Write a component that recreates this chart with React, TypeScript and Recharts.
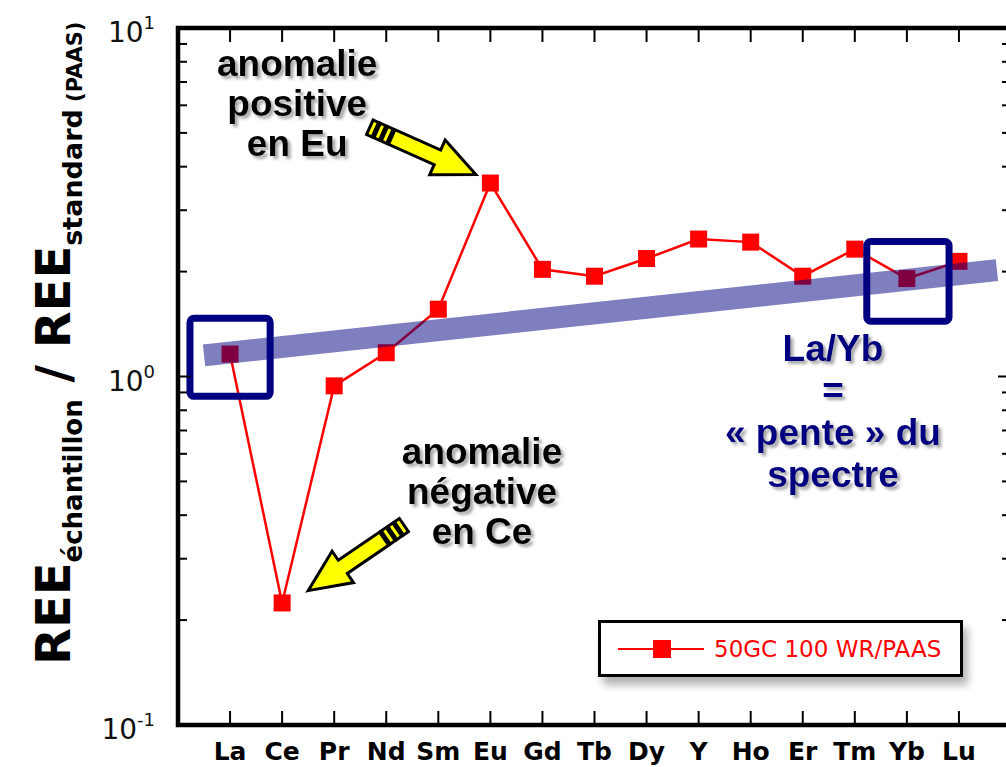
import { LineChart, Line, XAxis, YAxis, ReferenceLine, ReferenceArea, ReferenceDot, Legend } from 'recharts';

// REE spectrum normalised to PAAS, one sample
const elements = ['La', 'Ce', 'Pr', 'Nd', 'Sm', 'Eu', 'Gd', 'Tb', 'Dy', 'Y', 'Ho', 'Er', 'Tm', 'Yb', 'Lu'];
const positions = elements.map((_, i) => i + 1);
const ratios = [1.16, 0.224, 0.94, 1.17, 1.56, 3.59, 2.03, 1.94, 2.18, 2.48, 2.43, 1.94, 2.32, 1.91, 2.14];
const seriesName = '50GC 100 WR/PAAS';

const yTicks = [0.1, 0.2, 0.3, 0.4, 0.5, 0.6, 0.7, 0.8, 0.9, 1, 2, 3, 4, 5, 6, 7, 8, 9, 10];

// overall slope band (La -> Lu trend) and the two boxed points
const slopeBand = [{ x: 0.5, y: 1.15 }, { x: 15.73, y: 2.02 }];
const boxes = [
  { x1: 0.23, x2: 1.77, y1: 0.877, y2: 1.47 },
  { x1: 13.23, x2: 14.81, y1: 1.44, y2: 2.44 },
];

// arrows: tip position + direction in degrees
const arrows = [
  { x: 5.72, y: 3.8, angle: 24 },
  { x: 2.5, y: 0.243, angle: 145.6 },
];

const notes = [
  { x: 2.29, y: 7.3, lines: ['anomalie', 'positive', 'en Eu'], color: '#000000', gap: 40 },
  { x: 5.84, y: 0.56, lines: ['anomalie', 'négative', 'en Ce'], color: '#000000', gap: 40 },
  { x: 12.58, y: 1.11, lines: ['La/Yb', '=', '« pente » du', 'spectre'], color: '#000080', gap: 42 },
];

const data = positions.map((pos, i) => ({ pos, element: elements[i], ratio: ratios[i] }));

const isDecade = (v: number) => Math.abs(Math.log10(v) - Math.round(Math.log10(v))) < 1e-9;

function LeftTick({ x, y, payload }: any) {
  const v = payload.value;
  const major = isDecade(v);
  return (
    <g>
      <line x1={x} y1={y} x2={x + (major ? 13 : 9)} y2={y} stroke="#000" strokeWidth={2} />
      {major && (
        <text x={x - 23} y={y + 14} textAnchor="end" fontFamily="DejaVu Sans" fill="#111">
          <tspan fontSize={28}>10</tspan>
          <tspan fontSize={18} dy={-13}>{Math.round(Math.log10(v))}</tspan>
        </text>
      )}
    </g>
  );
}

function RightTick({ x, y, payload }: any) {
  const major = isDecade(payload.value);
  return <line x1={x} y1={y} x2={x - (major ? 13 : 9)} y2={y} stroke="#000" strokeWidth={2} />;
}

function BottomTick({ x, y, payload }: any) {
  return (
    <g>
      <line x1={x} y1={y} x2={x} y2={y - 14} stroke="#000" strokeWidth={2} />
      <text x={x} y={y + 35} textAnchor="middle" fontFamily="DejaVu Sans" fontWeight="bold" fontSize={25} fill="#000">
        {elements[payload.value - 1]}
      </text>
    </g>
  );
}

function TopTick({ x, y }: any) {
  return <line x1={x} y1={y} x2={x} y2={y + 14} stroke="#000" strokeWidth={2} />;
}

function AxisTitle() {
  const x = 70;
  const y = 665;
  return (
    <text transform={`rotate(-90 ${x} ${y})`} x={x} y={y} fontFamily="DejaVu Sans" fontWeight="bold" fill="#000">
      <tspan fontSize={48}>REE</tspan>
      <tspan fontSize={26} dy={12}>échantillon</tspan>
      <tspan fontSize={48} dy={-12}> / REE</tspan>
      <tspan fontSize={27} dy={12}>standard</tspan>
      <tspan fontSize={21}> (PAAS)</tspan>
    </text>
  );
}

function SquareDot({ cx, cy }: any) {
  return <rect x={cx - 8.5} y={cy - 8.5} width={17} height={17} fill="#ff0000" />;
}

function BlockArrow({ cx, cy, angle }: any) {
  const head = 42;
  const hw = 19;
  const sw = 8;
  const shaft = 92;
  const body = `0,0 ${-head},${-hw} ${-head},${-sw} ${-shaft},${-sw} ${-shaft},${sw} ${-head},${sw} ${-head},${hw}`;
  return (
    <g transform={`translate(${cx},${cy}) rotate(${angle})`} stroke="#000" strokeWidth={3} fill="#ffff00">
      <polygon points={body} />
      {[0, 1, 2].map((i) => (
        <rect key={i} x={-shaft - 8 - i * 8} y={-sw} width={6} height={sw * 2} />
      ))}
    </g>
  );
}

function NoteText({ cx, cy, lines, color, gap }: any) {
  return (
    <text
      x={cx}
      y={cy}
      textAnchor="middle"
      fill={color}
      fontFamily="Liberation Sans, Arial, sans-serif"
      fontWeight="bold"
      fontSize={37}
      filter="url(#textShadow)"
    >
      {lines.map((l: string, i: number) => (
        <tspan key={i} x={cx} dy={i === 0 ? 0 : gap}>
          {l}
        </tspan>
      ))}
    </text>
  );
}

function LegendBox({ payload }: any) {
  const item = payload && payload[0];
  const color = item ? item.color : '#ff0000';
  return (
    <div
      style={{
        boxSizing: 'border-box',
        width: 365,
        height: 57,
        border: '3px solid #000',
        background: '#fff',
        boxShadow: '5px 8px 8px rgba(0,0,0,0.3)',
        display: 'flex',
        alignItems: 'center',
        paddingLeft: 17,
      }}
    >
      <svg width={86} height={20}>
        <line x1={0} y1={10} x2={86} y2={10} stroke={color} strokeWidth={2} />
        <rect x={35} y={1} width={18} height={18} fill={color} />
      </svg>
      <span style={{ marginLeft: 10, fontFamily: 'DejaVu Sans', fontSize: 23, color }}>
        {item ? item.value : seriesName}
      </span>
    </div>
  );
}

export default function App() {
  return (
    <div style={{ position: 'absolute', left: 0, top: 0, width: 1006, height: 767, overflow: 'hidden', background: '#fff' }}>
      <LineChart width={1030} height={767} data={data} margin={{ top: 18, right: 9, bottom: 2, left: 118 }}>
        <defs>
          <filter id="textShadow" x="-10%" y="-10%" width="130%" height="130%">
            <feDropShadow dx={3} dy={3} stdDeviation={1.5} floodColor="#777" floodOpacity={0.65} />
          </filter>
        </defs>
        <XAxis
          xAxisId="bottom"
          dataKey="pos"
          type="number"
          domain={[0, 16]}
          ticks={positions}
          interval={0}
          height={40}
          tickSize={0}
          tickMargin={0}
          axisLine={false}
          tickLine={false}
          tick={<BottomTick />}
        />
        <XAxis
          xAxisId="top"
          orientation="top"
          dataKey="pos"
          type="number"
          domain={[0, 16]}
          ticks={positions}
          interval={0}
          height={10}
          tickSize={0}
          tickMargin={0}
          axisLine={false}
          tickLine={false}
          tick={<TopTick />}
        />
        <YAxis
          yAxisId="left"
          scale="log"
          type="number"
          domain={[0.1, 10]}
          allowDataOverflow
          ticks={yTicks}
          interval={0}
          width={60}
          tickSize={0}
          tickMargin={0}
          axisLine={false}
          tickLine={false}
          tick={<LeftTick />}
          label={<AxisTitle />}
        />
        <YAxis
          yAxisId="right"
          orientation="right"
          scale="log"
          type="number"
          domain={[0.1, 10]}
          allowDataOverflow
          ticks={yTicks}
          interval={0}
          width={10}
          tickSize={0}
          tickMargin={0}
          axisLine={false}
          tickLine={false}
          tick={<RightTick />}
        />
        <Line
          xAxisId="bottom"
          yAxisId="left"
          dataKey="ratio"
          name={seriesName}
          type="linear"
          stroke="#ff0000"
          strokeWidth={2.5}
          dot={<SquareDot />}
          activeDot={false}
          isAnimationActive={false}
        />
        <ReferenceLine
          xAxisId="bottom"
          yAxisId="left"
          segment={slopeBand}
          stroke="#000080"
          strokeOpacity={0.5}
          strokeWidth={22}
          ifOverflow="visible"
          zIndex={650}
        />
        {boxes.map((b, i) => (
          <ReferenceArea
            key={i}
            xAxisId="bottom"
            yAxisId="left"
            x1={b.x1}
            x2={b.x2}
            y1={b.y1}
            y2={b.y2}
            fill="none"
            fillOpacity={0}
            stroke="#000080"
            strokeWidth={7}
            radius={4}
            ifOverflow="visible"
            zIndex={660}
          />
        ))}
        <ReferenceArea
          xAxisId="bottom"
          yAxisId="left"
          x1={0}
          x2={16}
          y1={0.1}
          y2={10}
          fill="none"
          fillOpacity={0}
          stroke="#000"
          strokeWidth={4.5}
          ifOverflow="visible"
          zIndex={670}
        />
        {arrows.map((a, i) => (
          <ReferenceDot
            key={i}
            xAxisId="bottom"
            yAxisId="left"
            x={a.x}
            y={a.y}
            r={1}
            ifOverflow="visible"
            shape={(p: any) => <BlockArrow cx={p.cx} cy={p.cy} angle={a.angle} />}
            zIndex={680}
          />
        ))}
        {notes.map((n, i) => (
          <ReferenceDot
            key={i}
            xAxisId="bottom"
            yAxisId="left"
            x={n.x}
            y={n.y}
            r={1}
            ifOverflow="visible"
            shape={(p: any) => <NoteText cx={p.cx} cy={p.cy} lines={n.lines} color={n.color} gap={n.gap} />}
            zIndex={690}
          />
        ))}
        <Legend
          layout="horizontal"
          verticalAlign="middle"
          align="center"
          wrapperStyle={{ position: 'absolute', left: 598, top: 620, width: 365, height: 57 }}
          content={<LegendBox />}
        />
      </LineChart>
    </div>
  );
}
